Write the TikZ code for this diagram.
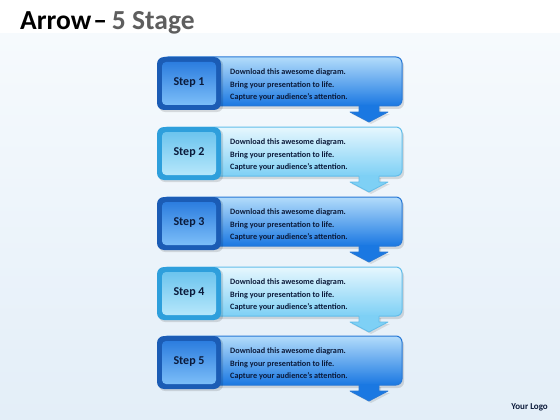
\documentclass[tikz,border=0pt]{standalone}
\usepackage{fontspec}
\setmainfont{Carlito}
\definecolor{dtop}{HTML}{B3DCFB}
\definecolor{dmid}{HTML}{3E96EC}
\definecolor{dbot}{HTML}{1A78E2}
\definecolor{dborder}{HTML}{2778D6}
\definecolor{ltop}{HTML}{E6F7FE}
\definecolor{lmid}{HTML}{B2E4FA}
\definecolor{lbot}{HTML}{7ED0F5}
\definecolor{lborder}{HTML}{62BDEA}
\definecolor{dbtnout}{HTML}{1B5CB5}
\definecolor{dbtntop}{HTML}{2C7DDF}
\definecolor{dbtnbot}{HTML}{7CBEF8}
\definecolor{lbtnout}{HTML}{2E9FDC}
\definecolor{lbtntop}{HTML}{6CC4EE}
\definecolor{lbtnbot}{HTML}{B6E7FB}
\definecolor{txtc}{HTML}{0B1A3A}
\definecolor{bgtop}{HTML}{F6FAFD}
\definecolor{bgbot}{HTML}{E3EEF8}
\definecolor{titlegray}{HTML}{5E5E5E}
\tikzset{
  bodytext/.style={anchor=west, align=left, font=\fontsize{8.2}{12.5}\selectfont\bfseries, text=txtc, inner sep=0pt},
  steplabel/.style={font=\fontsize{12}{12}\selectfont\bfseries, text=txtc, inner sep=0pt},
  shadowbox/.style={fill=black, opacity=0.12, rounded corners=6pt}
}
\begin{document}
\begin{tikzpicture}[x=1pt,y=-1pt]
\useasboundingbox (0,0) rectangle (560,420);
% background
\fill[white] (0,0) rectangle (560,34);
\shade[top color=bgtop, bottom color=bgbot] (0,34) rectangle (560,420);
% title
\node[anchor=base west, inner sep=0pt, font=\fontsize{27.5}{27.5}\selectfont\bfseries] (title) at (20,30) {Arrow\hspace{2pt}–\hspace{5pt}\textcolor{titlegray}{5 Stage}};
\node[anchor=base east, inner sep=0pt, font=\fontsize{9}{9}\selectfont\bfseries, text=txtc] (logo) at (548,409) {Your Logo};
% steps
\foreach \n/\T/\kind in {1/57/d,2/127/l,3/197/d,4/267/l,5/336/d}{
  \pgfmathsetmacro{\B}{\T+49}
  \if\kind d
    \colorlet{ctop}{dtop}\colorlet{cmid}{dmid}\colorlet{cbot}{dbot}\colorlet{cbor}{dborder}
    \colorlet{bout}{dbtnout}\colorlet{btop}{dbtntop}\colorlet{bbot}{dbtnbot}
  \else
    \colorlet{ctop}{ltop}\colorlet{cmid}{lmid}\colorlet{cbot}{lbot}\colorlet{cbor}{lborder}
    \colorlet{bout}{lbtnout}\colorlet{btop}{lbtntop}\colorlet{bbot}{lbtnbot}
  \fi
  % shadow of box
  \fill[shadowbox] (164,\T+3) rectangle (404,\B+3);
  % main box
  \shade[top color=ctop, middle color=cmid, bottom color=cbot, rounded corners=6pt] (162,\T) rectangle (402,\B);
  \draw[cbor, line width=1pt, rounded corners=6pt] (162,\T) rectangle (402,\B);
  % arrow shadow
  \fill[black, opacity=0.10] (361,\B+2) -- (361,\B+8) -- (352,\B+8) -- (371,\B+18) -- (390,\B+8) -- (381,\B+8) -- (381,\B+2) -- cycle;
  % arrow
  \fill[cbot] (359,\B-1) -- (359,\B+6) -- (350,\B+6) -- (369,\B+16) -- (388,\B+6) -- (379,\B+6) -- (379,\B-1) -- cycle;
  \draw[cbor, line width=0.8pt, line join=round] (359,\B) -- (359,\B+6) -- (350,\B+6) -- (369,\B+16) -- (388,\B+6) -- (379,\B+6) -- (379,\B);
  % button
  \fill[shadowbox] (159,\T+2) rectangle (223,\B+6);
  \fill[bout, rounded corners=7pt] (157,\T) rectangle (221,\B+4);
  \shade[top color=btop, bottom color=bbot, rounded corners=4pt] (162,\T+5) rectangle (216,\B-1);
  \node[steplabel] (s\n) at (189,\T+26) {Step \n};
  \node[bodytext] (t\n) at (230,\T+28) {Download this awesome diagram.\\Bring your presentation to life.\\Capture your audience’s attention.};
}
\end{tikzpicture}
\end{document}
